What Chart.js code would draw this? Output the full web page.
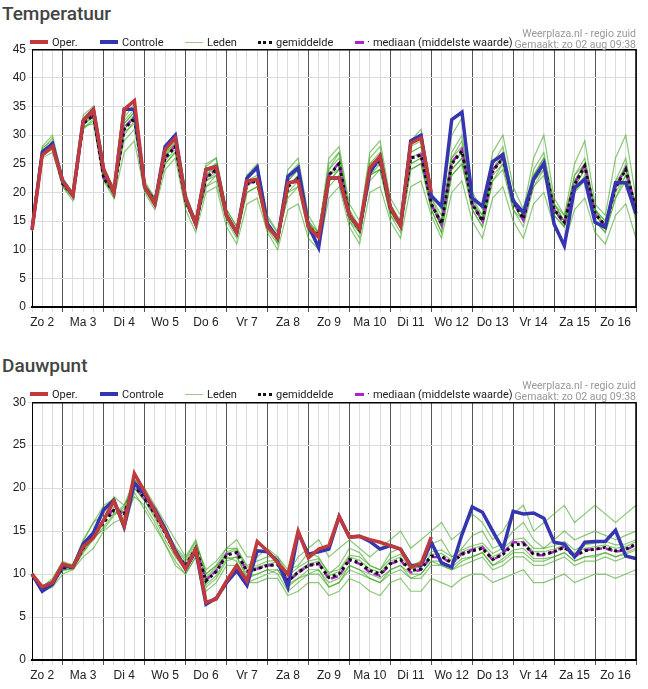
<!DOCTYPE html>
<html><head><meta charset="utf-8">
<script src="https://cdn.jsdelivr.net/npm/chart.js@4.4.1/dist/chart.umd.min.js"></script>
<style>
body{margin:0;background:#fff;font-family:Roboto,"Liberation Sans",sans-serif;}
#wrap{position:relative;width:648px;height:689px;}
.title{position:absolute;left:2px;font-size:19px;font-weight:500;color:#444;}
.it{position:absolute;font-size:11px;color:#222;display:flex;align-items:center;white-space:nowrap;height:12px;}
.it span.i{display:inline-block;height:0;margin-right:4px;}
.src{position:absolute;right:12px;font-size:10.5px;color:#999;text-align:right;line-height:11px;}
canvas{position:absolute;left:0;}
</style></head><body><div id="wrap">
<div class="title" style="top:2px">Temperatuur</div>
<div class="title" style="top:354px">Dauwpunt</div>
<canvas id="c1" style="top:40px"></canvas>
<canvas id="c2" style="top:393px"></canvas>
</div>
<script>
const dayLabels=['Zo 2','Ma 3','Di 4','Wo 5','Do 6','Vr 7','Za 8','Zo 9','Ma 10','Di 11','Wo 12','Do 13','Vr 14','Za 15','Zo 16'];
const hours=['06','12','18','00'];
const tempOper=[13.5,26.5,28,22,19.5,32.5,34.5,24,20,34.5,36,21,18,27.5,29.5,19,14.5,24,24.5,16,13,22,22.3,14,12,21.7,22,14,12.2,22.5,22.5,16,13.7,24.3,26.3,17.4,14.2,28.6,29.5,20];
const tempControle=[13.5,27,28.5,22,19.5,32.5,34.5,24,20,34.5,34.5,21,18,28,30,19,14.5,24,24.5,16,13,22.5,24.4,14.5,12,22.8,24.3,14.2,10.4,22.5,22.5,16,13.7,23.4,26.3,17.4,14.2,29,30,19.4,17.6,32.7,34,19,17.6,25.4,26.6,18.5,16.5,22.3,25.1,14.5,10.7,20.8,22.3,14.8,13.9,21.7,21.7,16.3];
const tempMean=[13.5,27,28.5,21.5,19.5,32,33.5,22.5,20,31,33,21,18.5,26,28,18.5,14.5,22.5,24,16,13,21.5,22,14.5,12,21,22.5,14,12.5,23,25,16,13.5,24,25.5,17,14.5,26,26.5,18,14.5,25,27.2,18,15,23.7,26,18.5,15.4,22.3,25,17,14.8,21.4,24.6,16.3,14.2,20.8,24,17];
const tempMedian=[13.5,27,28.6,21.5,19.5,32.2,33.6,22.5,20,31.2,33.2,21,18.5,26,28.2,18.5,14.6,22.6,24,16,13,21.6,22,14.5,12,21,22.6,14,12.4,23,25.2,16,13.4,24,25.6,17,14.4,26.2,26.6,18,14.4,25.2,27.5,18,15,23.8,26.2,18.4,15.2,22.4,25.2,17,14.6,21.6,24.8,16.2,14,21,24.2,17];
const tempMembers=[
[13.8,27.5,29.5,21,18.5,33,34.5,23,19,32,34,20.5,17.5,27,29.5,19,14,24,25,16.5,12.5,23,24,15,11,22,24,15,12,25,27,17,13,26,28,18,14,28,29,19,15,27,30,19,15,25,28,19,16,24,27,18,15,23,26,17,14,22,26,16],
[13.2,26.5,27.5,22,20,31,32.5,22,20.5,29,31,21.5,19,25,27,18,15,21,23,15.5,13.5,20,21,14,12.5,19,21,13,12,21,23,15,13,22,24,16,14,24,25,17,13,23,25,17,14,22,24,17,15,21,23,16,14,20,22,15,13,19,22,15],
[13.5,28,30,22.5,20,33.5,35,24,21,33,35.5,22,19,28,29.5,20,15,25,26,17,14,23,25,16,13,24,26,16,13,26,28,18,15,27,29,19,16,29,31,20,17,30,33,20,17,27,30,21,17,26,30,19,16,25,29,18,16,26,30,19],
[13.6,26,27,21,19,31.5,32,22,19,27,29,20,17,24,26,17,13,20,21,14,11,18,19,13,10,17,18,12,10,19,21,14,11,20,21,15,12,21,22,16,12,20,22,15,12,19,21,15,12,18,20,14,11,17,19,13,11,16,18,12],
[13.4,27.2,28.8,21.8,19.8,32.5,34,22.8,20.2,32,34,21.5,18.8,26.5,29,18.8,14.8,23,25,16.5,13.2,22,23,14.8,12.5,22,24,14.5,13,24,27,17,14,25,27,18,15,27,28,19,16,26,29,19,16,25,27,19,16,23,26,18,15,22,25,17,15,21,25,17],
[13.7,27.8,29,21.2,19.2,32.2,33,22.2,19.8,30,32.5,20.8,18,25.5,27.5,18,14,22,23.5,15.5,12.5,21,22.5,14,11.5,20,22,13.5,11,22,24,15,12,23,24,16,13,24,25,17,13,23,25,17,14,22,25,17,14,21,24,16,14,20,23,15,13,19,23,16],
[13.3,26.8,28,21.6,19.6,31.8,33.2,22.6,20.4,31.5,33.5,21.2,18.6,27,28.5,19,15.5,24.5,26,17,14,22.5,24,15.5,13,21,23,15,13,22,24,16,14,25,26,17,15,25,26,18,15,24,26,18,16,24,27,19,16,23,26,18,16,22,25,17,15,22,24,18],
[13.5,26.6,28.2,21.4,19.4,32.8,33.8,22.4,19.6,30.5,32,21,18.2,25,27,18.2,14.2,21,22,15,12,20,21,13.5,11,23,25,15,12,24,26,16,13,23,25,17,14,27,28,18,14,26,28,18,15,24,26,19,16,23,25,17,15,23,25,17,14,21,24,17],
[13.6,27.4,28.6,21.7,19.7,31.2,32.8,22.2,20.1,31,33,21.2,18.4,26,28.5,18.6,14.6,23,24.5,16.2,13,21.5,22,14.6,12.2,21,23,14,12.5,23,25,16,13.5,24,25,17,14.5,26,27,18,14,25,27,18,15,24,26,18,15,22,25,17,15,21,24,16,14,21,24,17],
[13.4,27,28.4,21.5,19.3,32,33.6,22.8,20,32.5,34.5,21,18.8,26.5,28,18.4,14.4,22,23,15.8,12.8,21.8,22,14.2,11.8,20,21,13.8,12.2,23,24,15.5,13,23,24,16.5,14,25,26,17.5,15,24,26,18,15,23,25,18,15,22,24,17,14,21,24,16,14,20,23,17]];
const dewOper=[10,8.5,9,11.2,10.8,13.2,14.2,16.3,18.5,15.6,21.7,19.6,17.3,15,12.5,10.6,12.9,6.7,7.1,9.2,11,9.2,13.8,12.7,11.3,10,15,11.9,12.9,13.3,16.7,14.3,14.4,14,13.7,13.3,12.9,10.8,11.2,14.3];
const dewControle=[10,8,8.8,11,10.8,13.5,14.8,17.5,18.6,15.5,20.6,19.3,17.5,15.3,12.7,10.6,12.7,6.5,7.2,9,10.4,8.7,12.7,12.6,11.5,8.5,14.8,12.3,12.6,12.9,16.7,14.3,14.4,13.8,12.9,13.3,12.9,11,11,13.7,11.3,10.8,14.6,17.8,17.2,15,12.9,17.3,17,17.1,16.5,13.7,13.5,12,13.7,13.8,13.8,15.1,12.1,11.8];
const dewMean=[10,8.3,9,10.7,10.8,13,14.5,16,17.4,17,20.3,18.8,17,14.8,12.5,11,13,9.2,10.3,12.2,12.5,10.3,10.6,11,11.1,9.2,10.2,11,11.2,9.6,10,11.7,11.3,10.4,10,11.2,11.7,10.4,10.6,12.1,12.1,11.3,12.3,12.7,13,11.7,12.3,13.4,13.5,12.3,12.3,12.6,13.1,12.1,12.7,12.9,13.1,12.7,12.9,13.5];
const dewMedian=[10,8.3,9,10.7,10.8,13,14.6,16.2,17.6,17,20.4,18.8,17,14.8,12.5,11,13,9.3,10.4,12.3,12.5,10.3,10.6,11,11.1,9.2,10.1,11,11.3,9.4,9.8,11.6,11.2,10.2,9.8,11.2,11.6,10.2,10.5,12,12,11.2,12.4,12.8,13.1,11.6,12.4,13.7,13.7,12.2,12.2,12.6,13.2,12,12.8,12.9,13,12.6,12.8,13.4];
const dewMembers=[
[10.2,8.5,9.5,11.5,11,14,16,17,19,18,21,20,18,16,14,12,14,10,11,13,14,12,12,13,12,10,12,13,14,12,13,14,13,12,13,14,15,13,14,15,16,14,15,17,16,14,15,17,18,15,16,17,18,16,17,18,17,16,17,18],
[9.8,8,8.5,10,10.5,12,13,15,16,16.5,19,18,16,13.5,11,10,12,8,9,11,11,9,9,9.5,9.5,7.5,8,9,9,7.5,8,9.5,9,8,7.5,9,9.5,8,8,9.5,9,8.5,9.5,10,10,9,9.5,10,10.5,9,9,9.5,10,9,9.5,10,10,9.5,10,10.5],
[10,8.4,9.2,11,11.2,13.5,15,17.5,18.5,16.5,21,19.5,17.5,15.5,13,11.5,13.5,10.5,11.5,13,13,11,11.5,12,12,10.5,11,12.5,12,10,11,13,12.5,11,10.5,12.5,13,11,11.5,13.5,14,12,13,14.5,15,13,13.5,15,16,14,13,14,15,14,14.5,15,14.5,14,14.5,15],
[10.1,8.2,8.8,10.5,10.6,12.5,14,15.5,17,18,20,18.5,16.5,14,12,10.5,12.5,8.5,9.5,11.5,12,9.5,10,10.5,10,8,9,10,10.5,8.5,9,10.5,10,9.5,9,10,10.5,9.5,9.5,11,11,10.5,11,11.5,12,10.5,11,12,12,11,11,11.5,12,11,11.5,11.5,12,11.5,12,12],
[9.9,8.1,8.9,10.8,10.9,13.2,14.8,16.2,17.8,17.2,20.6,19,17.2,15,12.8,11.2,13.2,9.6,10.8,12.6,13,10.8,11,11.5,11.6,9.8,10.8,11.5,11.8,10.2,10.5,12.2,12,11,10.5,11.8,12.3,11,11.2,12.6,12.8,12,12.8,13.3,13.6,12.4,13,14,14.2,13,13,13.3,13.8,12.8,13.4,13.6,13.8,13.4,13.5,14],
[10,8.6,9.3,11.2,11,13.8,16,18,18.8,15,19.5,17.5,15.5,13.5,11.5,10,12,8.8,9.8,11.8,12,9.8,10,10.5,10.5,8.8,9.5,10.5,10.5,9,9.5,11,10.5,10,9.5,10.5,11,10,10,11.5,11.5,10.8,11.8,12,12.5,11,11.8,12.8,13,11.8,11.8,12,12.5,11.5,12,12.2,12.5,12,12.3,12.8],
[10.1,8.3,9.1,10.6,10.7,12.8,14.2,16.5,17,17.5,20,18.6,16.8,14.6,12.4,11,13,9.4,10.5,12.4,12.8,10.5,10.8,11.2,11.4,9.4,10.4,11.2,11.5,9.8,10.3,12,11.6,10.6,10.2,11.5,12,10.6,10.8,12.3,12.4,11.6,12.6,13,13.3,12,12.6,13.7,13.8,12.6,12.6,12.9,13.4,12.4,13,13.2,13.4,13,13.2,13.8],
[9.9,8.2,9,10.4,10.6,12.6,14.2,15.2,16.8,17.8,20.8,19.3,17.6,15.4,13.2,11.8,13.8,10,11,12,11.5,9,9.5,10,10.5,8.5,9.5,10,10,8.5,9,11,10.5,9.5,9,10.5,11,9.5,10,11.5,11,10.5,11.5,12,12.5,11,11.5,12.5,12.5,11.5,11.5,12,12.5,11.5,12,12,12.5,12,12.5,13]];

const labels=[];
for(let i=0;i<60;i++){const d=Math.floor((i+1)/4);labels.push(dayLabels[d]+' '+hours[i%4]);}

function legendHTML(top){
  return `<div class="it" style="top:${top}px;left:30px"><span class="i" style="border-top:4px solid #c0393b;width:18px"></span>Oper.</div>
  <div class="it" style="top:${top}px;left:100px"><span class="i" style="border-top:4px solid #3535b0;width:18px"></span>Controle</div>
  <div class="it" style="top:${top}px;left:185px"><span class="i" style="border-top:1px solid #9cc98a;width:18px"></span>Leden</div>
  <div class="it" style="top:${top}px;left:258px"><span class="i" style="border-top:3px dotted #111;width:14px"></span>gemiddelde</div>
  <div class="it" style="top:${top}px;left:355px"><span class="i" style="border-top:3px solid #b020d0;width:9px;margin-right:3px"></span><span style="margin-right:3px">·</span>mediaan (middelste waarde)</div>
  <div class="src" style="top:${top-8}px">Weerplaza.nl - regio zuid<br>Gemaakt: zo 02 aug 09:38</div>`;
}
document.getElementById('wrap').insertAdjacentHTML('beforeend',legendHTML(36)+legendHTML(388));

function makeChart(id,oper,ctrl,mean,med,members,ymax,ystep){
  const ds=[
    {data:oper,borderColor:'#c0393b',borderWidth:3.5},
    {data:ctrl,borderColor:'#3535b0',borderWidth:3.5},
    {data:mean,borderColor:'#111',borderWidth:3,borderDash:[3,3]},
    {data:med,borderColor:'#b020d0',borderWidth:2.5,borderDash:[7,4]}
  ];
  members.forEach(m=>ds.push({data:m,borderColor:'rgba(60,165,30,0.6)',borderWidth:1.2}));
  ds.forEach(d=>{d.pointRadius=0;d.fill=false;d.tension=0;});
  const cv=document.getElementById(id);
  return new Chart(cv,{type:'line',data:{labels,datasets:ds},
    options:{responsive:false,animation:false,devicePixelRatio:1,
      layout:{padding:{top:7,right:12,left:0,bottom:0}},
      plugins:{legend:{display:false},tooltip:{enabled:false}},
      scales:{
        x:{offset:false,grid:{offset:false,drawTicks:true,tickLength:5,
              color:c=>((c.index-3)%4===0?'#555':'#ddd'),lineWidth:1},
           border:{color:'#000',width:2},
           ticks:{autoSkip:false,maxRotation:0,color:'#222',font:{family:'"Liberation Sans",Arial',size:12},
              callback:(v,i)=>(i%4===1?dayLabels[(i-1)/4]:'')},
           afterFit:s=>{s.height=23;}},
        y:{min:0,max:ymax,grid:{color:'#ddd',tickLength:4},border:{color:'#000',width:1},
           ticks:{stepSize:ystep,color:'#222',font:{family:'"Liberation Sans",Arial',size:12},padding:2},
           afterFit:s=>{s.width=32;}}
      }},
    plugins:[{id:'box',afterDraw(ch){const a=ch.chartArea,c=ch.ctx;c.save();c.strokeStyle='#000';c.lineWidth=1.5;
      c.beginPath();c.moveTo(a.left,a.top+0.5);c.lineTo(a.right,a.top+0.5);c.lineTo(a.right,a.bottom);c.stroke();c.restore();}}]
  });
}
document.getElementById('c1').width=648;document.getElementById('c1').height=290;
document.getElementById('c2').width=648;document.getElementById('c2').height=290;
makeChart('c1',tempOper,tempControle,tempMean,tempMedian,tempMembers,45,5);
makeChart('c2',dewOper,dewControle,dewMean,dewMedian,dewMembers,30,5);
</script></body></html>
